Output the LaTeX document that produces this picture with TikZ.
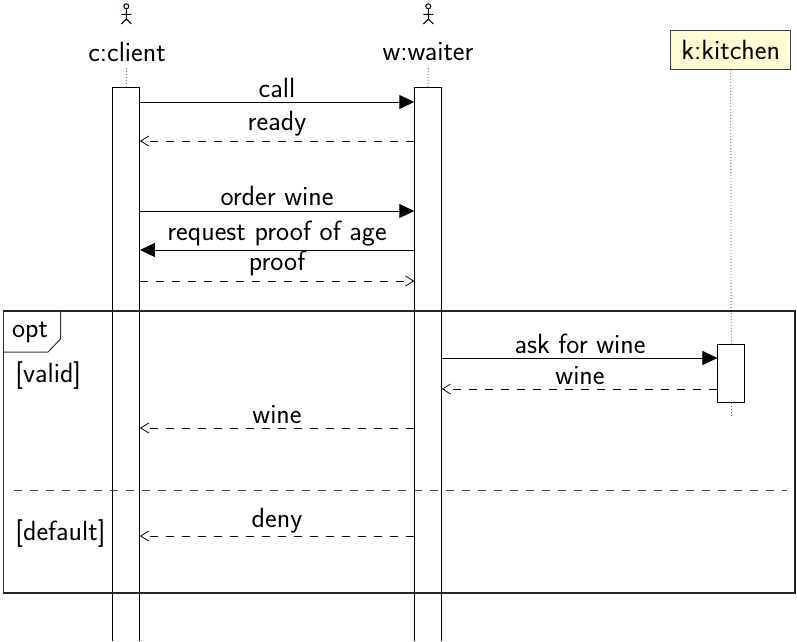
\documentclass[tikz,border=0pt]{standalone}
\usetikzlibrary{arrows.meta}
\tikzset{
  x=1pt,y=-1pt,
  every path/.style={line width=1pt},
  lbl/.style={font=\sffamily\fontsize{27.8}{30}\selectfont,inner sep=0pt,text=black},
  msglbl/.style={lbl,anchor=base},
  acthit/.style={rectangle,inner sep=0pt,minimum width=26.5pt},
  sync/.style={-{Triangle[length=15pt,width=14pt]}},
  reply/.style={-{Straight Barb[length=8pt,width=10pt,line width=0.8pt]},dash pattern=on 8pt off 8pt},
  lifeline/.style={dotted,line width=0.8pt,black!60},
  objbox/.style={lbl,draw=black!75,fill=yellow!18!white,minimum width=120pt,minimum height=38.5pt,line width=1.2pt},
}
\begin{document}
\begin{tikzpicture}
\useasboundingbox (0,0) rectangle (797,641);
% object labels
\node[lbl] (clab) at (127,52) {c:client};
\node[lbl] (wlab) at (428,52) {w:waiter};
\node[objbox] (klab) at (730.7,50) {k:kitchen};
% activation extents
\node[acthit,minimum height=552.5pt] (cact) at (126.2,364.7) {};
\node[acthit,minimum height=552.5pt] (wact) at (428,364.7) {};
\node[acthit,draw,fill=white,minimum height=58pt] (kact) at (731.2,373) {};
% lifelines
\coordinate (kend) at (731.2,416);
\coordinate (ctop) at (126.6,68);
\coordinate (wtop) at (428.4,68);
\draw[lifeline] (ctop) -- (cact.north);
\draw[lifeline] (wtop) -- (wact.north);
\draw[lifeline] (klab.south) -- (kact.north);
\draw[lifeline] (kact.south) -- (kend);
% actors
\foreach \n/\x in {ca/126.3,wa/428.3}{
  \node[circle,draw,fill=yellow!25!white,inner sep=0pt,minimum size=5pt] (\n) at (\x,6.3) {};
  \coordinate (\n hip) at (\x,19);
  \coordinate (\n L) at (\x-5,14.3);
  \coordinate (\n R) at (\x+5,14.3);
  \coordinate (\n FL) at (\x-5,24);
  \coordinate (\n FR) at (\x+5,24);
  \draw (\n.south) -- (\n hip) (\n L) -- (\n R) (\n FL) -- (\n hip) -- (\n FR);
}
% activation outlines (open at the bottom)
\draw (cact.south west) -- (cact.north west) -- (cact.north east) -- (cact.south east);
\draw (wact.south west) -- (wact.north west) -- (wact.north east) -- (wact.south east);
% frame
\coordinate (fa) at (3.5,311);
\coordinate (fb) at (795,593);
\draw[black!85,line width=1.2pt] (fa) rectangle (fb);
\coordinate (t1) at (60.5,311);
\coordinate (t2) at (60.5,339);
\coordinate (t3) at (48,352);
\coordinate (t4) at (3.5,352);
\draw[black!80] (t1) -- (t2) -- (t3) -- (t4);
\node[lbl] (optl) at (30,332.5) {opt};
\node[lbl,anchor=west] (valid) at (15,375.5) {[valid]};
\node[lbl,anchor=west] (deflt) at (15,533.5) {[default]};
\coordinate (d1) at (14,490);
\coordinate (d2) at (787,490);
\draw[black!70,dash pattern=on 8pt off 8pt] (d1) -- (d2);
% messages
\draw[sync] (cact.east |- 0,102) -- (wact.west |- 0,102);
\node[msglbl] (m1) at (277,97) {call};
\draw[reply] (wact.west |- 0,141) -- (cact.east |- 0,141);
\node[msglbl] (m2) at (277,130) {ready};
\draw[sync] (cact.east |- 0,211) -- (wact.west |- 0,211);
\node[msglbl] (m3) at (277,205.5) {order wine};
\draw[sync] (wact.west |- 0,250) -- (cact.east |- 0,250);
\node[msglbl] (m4) at (277,240) {request proof of age};
\draw[reply] (cact.east |- 0,281) -- (wact.west |- 0,281);
\node[msglbl] (m5) at (277,270) {proof};
\draw[sync] (wact.east |- 0,358) -- (kact.west |- 0,358);
\node[msglbl] (m6) at (580,353) {ask for wine};
\draw[reply] (kact.west |- 0,389) -- (wact.east |- 0,389);
\node[msglbl] (m7) at (580,384) {wine};
\draw[reply] (wact.west |- 0,428) -- (cact.east |- 0,428);
\node[msglbl] (m8) at (277,423) {wine};
\draw[reply] (wact.west |- 0,536) -- (cact.east |- 0,536);
\node[msglbl] (m9) at (277,527.5) {deny};
\end{tikzpicture}
\end{document}
